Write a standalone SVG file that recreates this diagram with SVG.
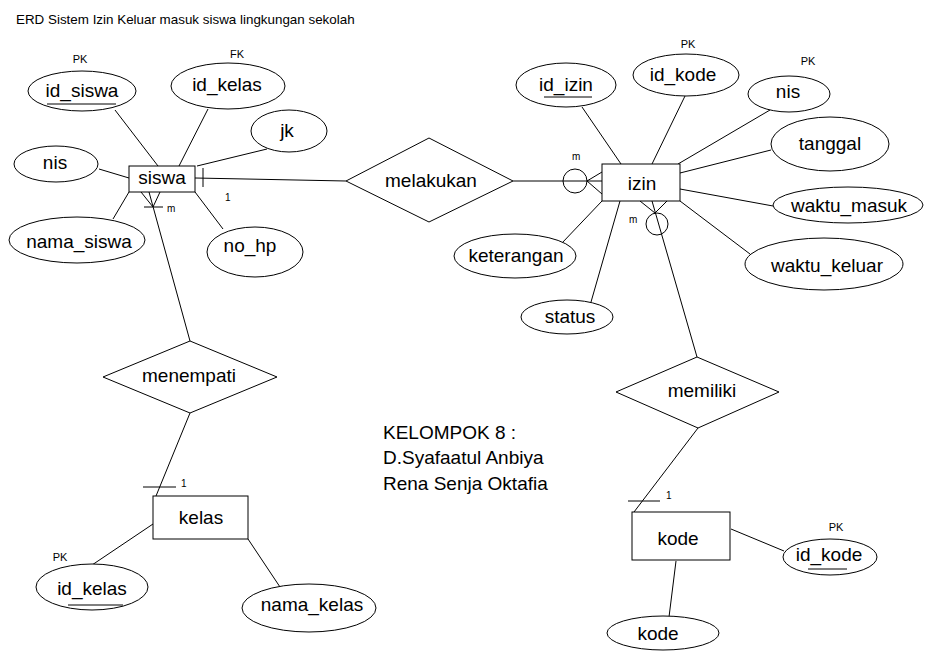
<svg xmlns="http://www.w3.org/2000/svg" width="941" height="662" viewBox="0 0 941 662">
<style>
.s{fill:none;stroke:#000;stroke-width:1}
.e{fill:#fff;stroke:#000;stroke-width:1}
text{font-family:"Liberation Sans",Arial,sans-serif;fill:#000}
.l{font-size:19px;text-anchor:middle}
.k{font-size:11px;text-anchor:middle}
.c{font-size:10px}
.t{font-size:13.4px}
.g{font-size:19px}
</style>
<rect width="941" height="662" fill="#fff"/>
<text class="t" x="16" y="24">ERD Sistem Izin Keluar masuk siswa lingkungan sekolah</text>
<g id="connectors" class="s">
<!-- siswa attributes -->
<line x1="115" y1="110" x2="158" y2="166"/>
<line x1="208" y1="109" x2="179" y2="166"/>
<line x1="267" y1="149" x2="197" y2="166"/>
<line x1="99" y1="169" x2="129" y2="178"/>
<line x1="113" y1="219" x2="129" y2="192"/>
<line x1="223" y1="229" x2="195" y2="192"/>
<!-- siswa - melakukan -->
<line x1="195" y1="178" x2="346" y2="181"/>
<line x1="203" y1="168" x2="203" y2="187"/>
<!-- siswa - menempati -->
<line x1="149" y1="192" x2="190" y2="341"/>
<line x1="141" y1="192" x2="153" y2="207"/>
<line x1="160" y1="192" x2="153" y2="207"/>
<line x1="144" y1="207" x2="163" y2="207"/>
<!-- menempati - kelas -->
<line x1="190" y1="413" x2="156" y2="496"/>
<line x1="143" y1="487" x2="176" y2="487"/>
<!-- kelas attributes -->
<line x1="153" y1="524" x2="92" y2="565"/>
<line x1="248" y1="539" x2="280" y2="587"/>
<!-- melakukan - izin -->
<line x1="513" y1="181" x2="602" y2="181"/>
<line x1="587" y1="181" x2="602" y2="172"/>
<line x1="587" y1="181" x2="602" y2="194"/>
<circle cx="575" cy="181" r="12"/>
<!-- izin attributes -->
<line x1="582" y1="107" x2="621" y2="164"/>
<line x1="685" y1="96" x2="652" y2="164"/>
<line x1="770" y1="110" x2="678" y2="164"/>
<line x1="771" y1="150" x2="680" y2="173"/>
<line x1="773" y1="206" x2="680" y2="189"/>
<line x1="750" y1="254" x2="680" y2="201"/>
<line x1="562" y1="243" x2="602" y2="201"/>
<line x1="591" y1="302" x2="620" y2="201"/>
<!-- izin - memiliki -->
<line x1="652" y1="201" x2="697" y2="357"/>
<line x1="640" y1="201" x2="655" y2="213"/>
<line x1="667" y1="201" x2="655" y2="213"/>
<circle cx="657" cy="224" r="11"/>
<!-- memiliki - kode -->
<line x1="698" y1="428" x2="634" y2="512"/>
<line x1="628" y1="501" x2="660" y2="501"/>
<!-- kode attributes -->
<line x1="731" y1="529" x2="784" y2="551"/>
<line x1="676" y1="561" x2="669" y2="617"/>
</g>
<g id="cardinality">
<text class="c" x="167" y="212">m</text>
<text class="c" x="225" y="201">1</text>
<text class="c" x="181" y="487">1</text>
<text class="c" x="572" y="160">m</text>
<text class="c" x="629" y="223">m</text>
<text class="c" x="666" y="499">1</text>
</g>
<g id="siswa"><rect class="e" x="129" y="166" width="66" height="26"/><text class="l" x="162" y="184">siswa</text></g>
<g id="siswa_id_siswa"><ellipse class="e" cx="82" cy="91" rx="54" ry="20"/><text class="l" x="82" y="97">id_siswa</text><line class="s" x1="47" y1="104" x2="116" y2="104"/><text class="k" x="80" y="63">PK</text></g>
<g id="siswa_id_kelas"><ellipse class="e" cx="228" cy="86" rx="57" ry="23"/><text class="l" x="227" y="91">id_kelas</text><text class="k" x="237" y="58">FK</text></g>
<g id="siswa_jk"><ellipse class="e" cx="289" cy="131" rx="38" ry="21"/><text class="l" x="287" y="137">jk</text></g>
<g id="siswa_nis"><ellipse class="e" cx="56" cy="164" rx="42" ry="18"/><text class="l" x="55" y="169">nis</text></g>
<g id="siswa_nama_siswa"><ellipse class="e" cx="77" cy="240" rx="68" ry="23"/><text class="l" x="79" y="248">nama_siswa</text></g>
<g id="siswa_no_hp"><ellipse class="e" cx="255" cy="252" rx="48" ry="25"/><text class="l" x="250" y="252">no_hp</text></g>
<g id="melakukan"><polygon class="e" points="346,181 429,138 513,181 429,222"/><text class="l" x="431" y="187">melakukan</text></g>
<g id="menempati"><polygon class="e" points="103,377 190,341 277,377 190,413"/><text class="l" x="189" y="382">menempati</text></g>
<g id="kelas"><rect class="e" x="153" y="496" width="95" height="43"/><text class="l" x="201" y="524">kelas</text></g>
<g id="kelas_id_kelas"><ellipse class="e" cx="92" cy="587" rx="56" ry="23"/><text class="l" x="92" y="595">id_kelas</text><line class="s" x1="68" y1="605" x2="123" y2="605"/><text class="k" x="60" y="561">PK</text></g>
<g id="kelas_nama_kelas"><ellipse class="e" cx="309" cy="608" rx="67" ry="24"/><text class="l" x="312" y="611">nama_kelas</text></g>
<g id="izin"><rect class="e" x="602" y="164" width="78" height="37"/><text class="l" x="642" y="190">izin</text></g>
<g id="izin_id_izin"><ellipse class="e" cx="566" cy="85" rx="50" ry="22"/><text class="l" x="566" y="91">id_izin</text><line class="s" x1="544" y1="97" x2="592" y2="97"/></g>
<g id="izin_id_kode"><ellipse class="e" cx="686" cy="75" rx="53" ry="21"/><text class="l" x="683" y="81">id_kode</text><text class="k" x="688" y="48">PK</text></g>
<g id="izin_nis"><ellipse class="e" cx="789" cy="94" rx="41" ry="18"/><text class="l" x="788" y="98">nis</text><text class="k" x="808" y="65">PK</text></g>
<g id="izin_tanggal"><ellipse class="e" cx="830" cy="144" rx="59" ry="27"/><text class="l" x="830" y="150">tanggal</text></g>
<g id="izin_waktu_masuk"><ellipse class="e" cx="848" cy="205" rx="75" ry="18"/><text class="l" x="849" y="212">waktu_masuk</text></g>
<g id="izin_waktu_keluar"><ellipse class="e" cx="824" cy="264" rx="79" ry="26"/><text class="l" x="827" y="272">waktu_keluar</text></g>
<g id="izin_keterangan"><ellipse class="e" cx="515" cy="256" rx="61" ry="22"/><text class="l" x="516" y="262">keterangan</text></g>
<g id="izin_status"><ellipse class="e" cx="567" cy="317" rx="46" ry="17"/><text class="l" x="570" y="323">status</text></g>
<g id="memiliki"><polygon class="e" points="616,392 697,357 779,392 698,428"/><text class="l" x="702" y="397">memiliki</text></g>
<g id="kode"><rect class="e" x="632" y="512" width="98" height="48"/><text class="l" x="678" y="545">kode</text></g>
<g id="kode_id_kode"><ellipse class="e" cx="830" cy="557" rx="47" ry="18"/><text class="l" x="829" y="561">id_kode</text><line class="s" x1="808" y1="569" x2="847" y2="569"/><text class="k" x="836" y="531">PK</text></g>
<g id="kode_kode"><ellipse class="e" cx="663" cy="633" rx="56" ry="17"/><text class="l" x="658" y="640">kode</text></g>
<g id="kelompok">
<text class="g" x="383" y="439">KELOMPOK 8 :</text>
<text class="g" x="383" y="464">D.Syafaatul Anbiya</text>
<text class="g" x="383" y="490">Rena Senja Oktafia</text>
</g>
</svg>
